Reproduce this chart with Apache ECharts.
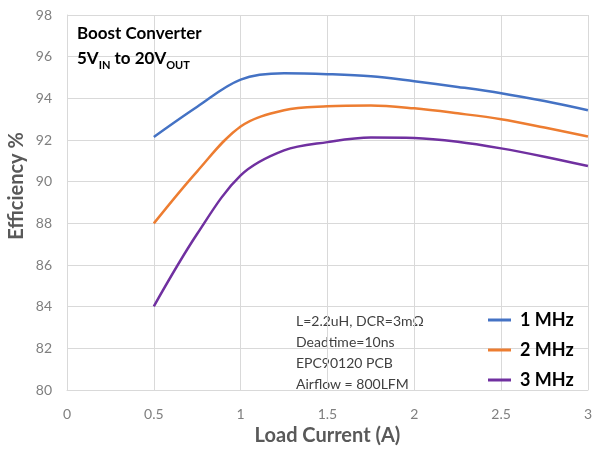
<!DOCTYPE html>
<html><head><meta charset="utf-8">
<script src="https://cdn.jsdelivr.net/npm/echarts@6/dist/echarts.min.js"></script>
<style>html,body{margin:0;padding:0;background:#fff}#c{width:595px;height:451px}</style>
</head><body><div id="c"></div>
<script>
const loadCurrent = [0.5, 0.75, 1.0, 1.25, 1.5, 1.75, 2.0, 2.25, 2.5, 2.75, 3.0];
const eff1MHz = [92.15, 93.6, 94.9, 95.2, 95.16, 95.06, 94.82, 94.55, 94.25, 93.87, 93.43];
const eff2MHz = [88.0, 90.5, 92.65, 93.43, 93.62, 93.66, 93.52, 93.28, 93.0, 92.6, 92.17];
const eff3MHz = [84.02, 87.5, 90.3, 91.5, 91.9, 92.12, 92.1, 91.92, 91.6, 91.2, 90.75];
const seriesNames = ['1 MHz', '2 MHz', '3 MHz'];
const seriesColors = ['#4472c4', '#ed7d31', '#7030a0'];
const notes = ['L=2.2uH, DCR=3mΩ', 'Deadtime=10ns', 'EPC90120 PCB', 'Airflow = 800LFM'];
const xAxisTitle = 'Load Current (A)';
const yAxisTitle = 'Efficiency %';

const FONT = 'Lato, "Open Sans", sans-serif';
const chart = echarts.init(document.getElementById('c'), null, {renderer: 'canvas'});
const allData = [eff1MHz, eff2MHz, eff3MHz];
chart.setOption({
  animation: false,
  textStyle: {fontFamily: FONT},
  grid: {left: 67, right: 5, top: 15, bottom: 55, containLabel: false},
  title: {
    left: 72, top: 16,
    text: '{b|Boost Converter}\n{b|5V}{s|IN}{b| to 20V}{s|OUT}',
    textStyle: {
      fontFamily: FONT,
      rich: {
        b: {fontSize: 17, fontWeight: 'bold', color: '#000', fontFamily: FONT, lineHeight: 25},
        s: {fontSize: 11, fontWeight: 'bold', color: '#000', fontFamily: FONT, lineHeight: 11, verticalAlign: 'bottom'}
      }
    }
  },
  legend: {
    orient: 'vertical', left: 483, top: 306, itemGap: 12,
    icon: 'rect', itemWidth: 23, itemHeight: 3,
    textStyle: {fontSize: 18, lineHeight: 18, fontWeight: 'bold', color: '#000', fontFamily: FONT, padding: [0, 0, 0, 4]},
    data: seriesNames
  },
  xAxis: {
    type: 'value', min: 0, max: 3, interval: 0.5,
    name: xAxisTitle, nameLocation: 'middle', nameGap: 34,
    nameTextStyle: {fontSize: 20, fontWeight: 'bold', color: '#595959', fontFamily: FONT},
    axisLine: {show: true, lineStyle: {color: '#d9d9d9'}},
    axisTick: {show: false},
    axisLabel: {fontSize: 14, color: '#7f7f7f', margin: 17},
    splitLine: {show: true, lineStyle: {color: '#d9d9d9', width: 1}}
  },
  yAxis: {
    type: 'value', min: 80, max: 98, interval: 2,
    axisLine: {show: true, lineStyle: {color: '#d9d9d9'}},
    axisTick: {show: false},
    axisLabel: {fontSize: 14, color: '#7f7f7f', margin: 15},
    splitLine: {show: true, lineStyle: {color: '#d9d9d9', width: 1}}
  },
  graphic: [{
    type: 'text', x: 17, y: 186, rotation: Math.PI / 2,
    style: {text: yAxisTitle, fontSize: 20, fontWeight: 'bold', fill: '#595959', fontFamily: FONT, align: 'center', verticalAlign: 'middle'}
  }].concat(notes.map((t, i) => ({
    type: 'text', x: 296, y: 321 + i * 21.3,
    style: {text: t, fontSize: 14, fill: '#404040', fontFamily: FONT, align: 'left', verticalAlign: 'middle'}
  }))),
  series: seriesNames.map((n, i) => ({
    name: n, type: 'line', smooth: 0.35, symbol: 'none',
    lineStyle: {width: 2.5, color: seriesColors[i]},
    itemStyle: {color: seriesColors[i]},
    data: loadCurrent.map((x, j) => [x, allData[i][j]])
  }))
});
</script></body></html>
